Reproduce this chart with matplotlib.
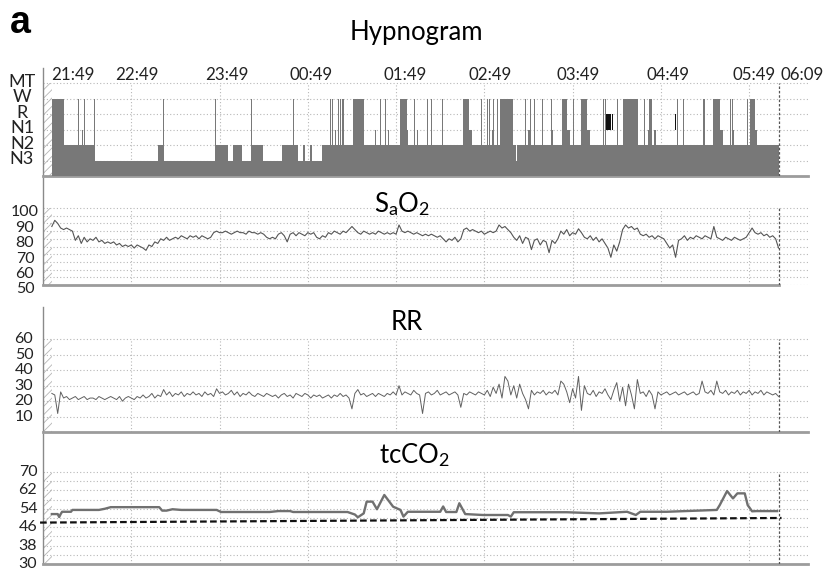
import numpy as np
import matplotlib
matplotlib.use("Agg")
import matplotlib.pyplot as plt
from matplotlib.patches import Rectangle
from matplotlib.transforms import blended_transform_factory

plt.rcParams["font.family"] = ["Lato", "DejaVu Sans"]
plt.rcParams["mathtext.fontset"] = "custom"
plt.rcParams["mathtext.rm"] = "Lato"
plt.rcParams["mathtext.it"] = "Lato:italic"
plt.rcParams["hatch.linewidth"] = 0.6

# ---------------- data (time in minutes after 21:49) ----------------
hour_ticks = [0, 60, 120, 180, 240, 300, 360, 420, 480, 500]
hour_labels = ["21:49", "22:49", "23:49", "00:49", "01:49", "02:49",
               "03:49", "04:49", "05:49", "06:09"]
rec_start, rec_end = 6, 500

stage_names = ["MT", "W", "R", "N1", "N2", "N3"]
stage_level = {"MT": 6, "W": 5, "R": 4, "N1": 3, "N2": 2, "N3": 1}

# (start minute, stage) – each stage lasts until the next start
hypnogram_epochs = [
    (6, "W"), (14.5, "N2"), (24, "W"), (24.5, "N2"), (26.5, "N1"), (27, "N2"), (28, "W"), (28.5, "N2"),
    (35, "W"), (35.5, "N3"), (78.5, "N2"), (81.5, "W"), (82, "N3"), (117, "W"), (117.5, "N2"),
    (126, "N3"), (129, "N2"), (135, "N3"), (141.5, "W"), (142, "N2"), (149.5, "N3"), (162.5, "N2"),
    (170, "W"), (170.5, "N2"), (173.5, "N3"), (176.5, "N2"), (178, "N3"), (181.5, "N2"), (183, "N3"),
    (189.5, "N2"), (193.5, "W"), (194, "N2"), (195, "W"), (195.5, "N2"), (196.5, "W"), (197, "N2"),
    (198.5, "N1"), (199, "N2"), (200.5, "W"), (201, "N2"), (202, "W"), (202.5, "N2"), (203, "W"),
    (204.5, "N2"), (205, "W"), (205.5, "N2"), (207, "W"), (207.5, "N2"), (208.5, "W"), (209, "N2"),
    (210.5, "W"), (218, "N2"), (224, "W"), (224.5, "N2"), (225.5, "N1"), (226.5, "N2"), (227.5, "W"),
    (228, "N2"), (229, "W"), (229.5, "N2"), (232.5, "W"), (233, "N2"), (234.5, "N1"), (235, "N2"),
    (239, "W"), (239.5, "N2"), (243, "W"), (247.5, "N1"), (248, "N2"), (252.5, "W"), (253, "N2"),
    (254, "N1"), (255, "N2"), (258, "W"), (258.5, "N2"), (261, "W"), (262, "N2"), (264, "W"),
    (264.5, "N2"), (271.5, "W"), (272, "N2"), (285.5, "W"), (289.5, "N1"), (291.5, "N2"), (292, "W"),
    (292.5, "N2"), (298, "W"), (298.5, "N2"), (301.5, "W"), (302.5, "N2"), (303.5, "W"), (304, "N2"),
    (305, "N1"), (306, "W"), (306.5, "N2"), (308.5, "W"), (309, "N2"), (310.5, "W"), (319.5, "N2"),
    (321.5, "N3"), (322.5, "N2"), (324, "W"), (324.5, "N2"), (327.5, "W"), (328, "N2"), (329.5, "W"),
    (330, "N1"), (331, "W"), (332, "N2"), (334, "W"), (334.5, "N2"), (337.5, "W"), (338, "N2"),
    (339.5, "W"), (340, "N2"), (343, "W"), (343.5, "N2"), (345.5, "W"), (346, "N1"), (346.5, "N2"),
    (352.5, "W"), (356.5, "N1"), (358, "N2"), (360.5, "W"), (361, "N2"), (366, "W"), (369.5, "N1"),
    (371.5, "N2"), (380.5, "W"), (381, "N2"), (382, "W"), (382.5, "N2"), (383, "R"), (386, "N2"),
    (386.5, "R"), (387.5, "N2"), (388.5, "W"), (389, "N2"), (390.5, "W"), (391, "N2"), (394, "W"),
    (404.5, "N2"), (408.5, "W"), (409, "N2"), (411, "W"), (411.5, "N1"), (412, "W"), (414, "N2"),
    (415, "W"), (415.5, "N1"), (416.5, "W"), (417, "N2"), (429.5, "R"), (430, "N2"), (431, "W"),
    (431.5, "N2"), (435, "W"), (435.5, "N2"), (437.5, "W"), (438, "N2"), (447, "W"), (447.5, "N2"),
    (448.5, "W"), (449, "N1"), (449.5, "W"), (450, "N2"), (455.5, "W"), (460, "N1"), (462, "N2"),
    (467, "W"), (467.5, "N2"), (468.5, "W"), (469, "N1"), (469.5, "N2"), (471.5, "W"), (472, "N2"),
    (473.5, "W"), (474, "N2"), (475.5, "W"), (476, "N2"), (478.5, "W"), (479, "N2"), (480.5, "W"),
    (484, "N1"), (485, "N2"),
]

# SaO2 (%), one reading every 2 min from minute 6
sao2 = [
    88, 92, 90, 87, 86, 87, 86, 85, 79, 82,
    77, 81, 78, 80, 79, 81, 78, 79, 77, 78,
    77, 78, 76, 77, 75, 76, 75, 76, 74, 76,
    75, 74, 72.5, 76, 75, 78, 77, 80, 79, 81,
    79, 80, 81, 80, 82, 81, 80, 82, 81, 82,
    80, 82, 81, 80, 81, 84, 85, 84, 84, 85,
    84, 83, 84, 85, 84, 84, 83, 85, 84, 84,
    83, 84, 83, 81, 80, 81, 80, 83, 84, 82,
    78, 83, 84, 82, 84, 83, 82, 84, 83, 84,
    81, 80, 82, 81, 84, 83, 85, 84, 83, 85,
    84, 86, 88, 86, 84, 83, 85, 84, 83, 84,
    83, 85, 84, 83, 84, 83, 84, 83, 89, 85,
    84, 85, 84, 83, 84, 83, 82, 83, 82, 83,
    82, 81, 82, 80, 78, 80, 79, 81, 78, 80,
    86, 87, 85, 86, 85, 84, 85, 83, 84, 85,
    84, 85, 89, 87, 88, 86, 84, 81, 79, 82,
    77, 81, 80, 73, 79, 80, 76, 79, 78, 71,
    79, 77, 80, 85, 83, 86, 82, 84, 83, 86.5,
    84, 81, 80, 82, 79, 81, 78, 80, 77, 74,
    68, 76, 72, 78, 86, 89, 87, 88, 86, 87,
    83, 82, 83, 81, 82, 80, 82, 81, 80, 77,
    74, 76, 68, 79, 80, 82, 79, 81, 80, 82,
    81, 80, 82, 81, 80, 88, 81, 80, 79, 81,
    80, 79, 81, 80, 79, 80, 81, 84, 87, 84,
    83, 84, 82, 83, 81, 82, 80, 74,
]

# respiratory rate (/min), one reading every 2 min from minute 6
rr = [
    25, 24, 12, 26, 22, 23, 21, 22, 23, 21,
    22, 23, 21, 22, 22, 21, 23, 22, 21, 22,
    23, 22, 21, 23, 20, 22, 23, 22, 21, 23,
    22, 24, 22, 23, 25, 22, 24, 23, 27.5, 24,
    26, 23, 25, 24, 26, 23, 25, 24, 26, 24,
    25, 23, 26, 24, 25, 23, 28, 25, 26, 24,
    25, 27, 24, 26, 23, 25, 24, 26, 24, 23,
    25, 24, 23, 25, 24, 23, 24, 22, 24, 25,
    23, 24, 22, 25, 24, 23, 25, 24, 22, 24,
    23, 24, 22, 23, 24, 22, 24, 23, 25, 23,
    24, 22, 15, 25, 27.5, 24, 25, 23, 24, 25,
    23, 25, 24, 23, 25, 24, 26, 24, 30, 24,
    26, 25, 24, 27, 25, 24, 12, 25, 26, 24,
    25, 27, 24, 25, 26, 24, 25, 26, 24, 16,
    25, 24, 26, 25, 24, 26, 25, 24, 27, 23,
    29, 25, 31, 22, 36, 33, 24, 30, 22, 31,
    25, 21, 15, 27, 24, 26, 25, 27, 24, 26,
    25, 27, 24, 33, 31, 26, 19, 28, 22, 36,
    14, 30, 25, 24, 27, 23, 26, 25, 28, 24,
    21, 27, 32, 20, 29, 17, 31, 24, 15, 34,
    25, 26, 23, 27, 24, 15, 26, 24, 25, 26,
    24, 25, 26, 24, 25, 26, 24, 25, 26, 24,
    25, 33, 26, 25, 27, 24, 33, 26, 25, 27,
    24, 26, 25, 27, 24, 26, 25, 27, 24, 26,
    25, 27, 24, 26, 25, 24, 25, 23,
]

# transcutaneous CO2 (mmHg)
tcco2_t = [6, 10, 11, 12, 13, 19, 20, 38, 42, 46,
           79, 81, 84, 88, 94, 118, 121, 125, 129, 154,
           160, 168, 170, 188, 191, 207, 212, 214, 218, 220,
           224, 227, 232, 238, 243, 245, 248, 270, 272, 274,
           281, 283, 287, 299, 316, 318, 320, 356, 378, 397,
           403, 406, 424, 458, 460, 465, 469, 472, 477, 479,
           482, 485, 499]
tcco2_v = [51.7, 51.7, 50.4, 51.7, 52.7, 52.7, 53.5, 53.5, 54, 54.7,
           54.7, 53.2, 53.2, 53.8, 53.5, 53.5, 52.6, 52.6, 52.6, 52.6,
           53, 53, 52.6, 52.6, 52.6, 52.6, 51.5, 50.3, 52, 57.1,
           57.1, 53.8, 60, 54.9, 53.5, 50.6, 52.7, 52.7, 55, 52.6,
           52.6, 56.4, 51.7, 51.3, 51.3, 50.6, 52.5, 52.5, 52, 52.7,
           51.3, 52.7, 52.7, 53.5, 55.6, 61.7, 58.5, 60.7, 60.7, 55.6,
           52.9, 53, 53]
tcco2_ref_t = [-2, 502]
tcco2_ref_v = [48, 50]

sao2_ticks = [100, 90, 80, 70, 60, 50]
rr_ticks = [60, 50, 40, 30, 20, 10]
tcco2_ticks = [70, 62, 54, 46, 38, 30]

# ---------------- figure layout ----------------
W, H = 828, 572
fig = plt.figure(figsize=(W / 100, H / 100), dpi=100)
X0, X1 = 43, 808
XMAX = 520

GRID = dict(color="#b8b8b8", lw=0.8, linestyle=(0, (1, 2)))
END = dict(color="#555555", lw=0.9, linestyle=(0, (2, 1.5)))


def make_axes(top, bottom, ylim):
    ax = fig.add_axes([X0 / W, 1 - bottom / H, (X1 - X0) / W, (bottom - top) / H])
    ax.set_xlim(0, XMAX)
    ax.set_ylim(*ylim)
    for s in ("top", "right"):
        ax.spines[s].set_visible(False)
    ax.spines["left"].set_color("#8a8a8a")
    ax.spines["left"].set_linewidth(1.0)
    ax.spines["bottom"].set_color("#9c9c9c")
    ax.spines["bottom"].set_linewidth(2.0)
    ax.set_xticks([])
    ax.set_yticks([])
    return ax


def decorate(ax, hlines, ylo, yhi):
    for y in hlines:
        ax.plot([0, XMAX], [y, y], **GRID, zorder=1)
    for t in hour_ticks[1:-1]:
        ax.plot([t, t], [ylo, yhi], **GRID, zorder=1)
    ax.plot([hour_ticks[-1]] * 2, [ylo, yhi], **END, zorder=4)
    ax.add_patch(Rectangle((0, ylo), rec_start, yhi - ylo, fill=False,
                           hatch="////", edgecolor="#b5b5b5", lw=0, zorder=2))


def left_labels(ax, ticks, xpix, ha="center", shift=0.0, size=11.5):
    tr = blended_transform_factory(fig.transFigure, ax.transData)
    for v in ticks:
        ax.text(xpix / W, v + shift, str(v), transform=tr, ha=ha, va="center",
                fontsize=size, color="#222222", clip_on=False)


TITLE = 18.5

# panel label
fig.text(10 / W, 1 - 33 / H, "a", fontsize=27, fontweight="bold",
         family=["Liberation Sans", "DejaVu Sans"], va="baseline")

# ---------------- hypnogram ----------------
ax1 = make_axes(68, 176, (0, 7))
decorate(ax1, [1, 2, 3, 4, 5, 6], 0, 6)
starts = [s for s, _ in hypnogram_epochs]
ends = starts[1:] + [rec_end]
fill_lvl = [2 if st == "R" else stage_level[st] for _, st in hypnogram_epochs]
ax1.fill_between(starts + [rec_end], 0, fill_lvl + [fill_lvl[-1]], step="post",
                 color="#787878", lw=0, zorder=3)
for (s, st), e in zip(hypnogram_epochs, ends):
    if st == "R":
        ax1.bar(s, 1, width=e - s, bottom=stage_level["N1"], align="edge",
                color="#111111", lw=0, zorder=3)
tr1 = blended_transform_factory(fig.transFigure, ax1.transData)
for name in stage_names:
    ax1.text(22 / W, stage_level[name] + 0.1, name, transform=tr1, ha="center",
             va="center", fontsize=13, color="#222222")
label_shift = [20, 4, 5, 2, 6, 4, 4, 5, 3, 16]
for t, lab, dx in zip(hour_ticks, hour_labels, label_shift):
    ax1.text(t + dx, 6.52, lab, ha="center", va="center", fontsize=12.2, color="#222222")
fig.text(416 / W, 1 - 40 / H, "Hypnogram", ha="center", va="baseline", fontsize=TITLE)

# ---------------- SaO2 ----------------
ax2 = make_axes(178, 285, (50, 119.5))
ax2.spines["bottom"].set_bounds(0, rec_end)
decorate(ax2, [50, 55, 60, 65, 70, 75, 80, 85, 90, 95, 100], 50, 100)
t_sao2 = rec_start + 2 * np.arange(len(sao2))
ax2.plot(t_sao2, sao2, color="#555555", lw=0.8, zorder=3)
left_labels(ax2, sao2_ticks, 25, shift=-2.8)
fig.text(402 / W, 1 - 212 / H, r"S$_\mathregular{a}$O$_\mathregular{2}$",
         ha="center", va="baseline", fontsize=TITLE)

# ---------------- RR ----------------
ax3 = make_axes(307, 432, (0, 81))
decorate(ax3, [10, 20, 30, 40, 50, 60], 0, 60)
t_rr = rec_start + 2 * np.arange(len(rr))
ax3.plot(t_rr, rr, color="#606060", lw=0.7, zorder=3)
left_labels(ax3, rr_ticks, 24)
fig.text(407 / W, 1 - 330 / H, "RR", ha="center", va="baseline", fontsize=TITLE)

# ---------------- tcCO2 ----------------
ax4 = make_axes(434, 564, (30, 86.5))
decorate(ax4, list(range(34, 71, 4)), 30, 70)
ax4.plot(tcco2_t, tcco2_v, color="#707070", lw=1.7, zorder=3)
ax4.plot(tcco2_ref_t, tcco2_ref_v, color="#111111", lw=1.6,
         linestyle=(0, (3, 1.5)), zorder=5, clip_on=False)
left_labels(ax4, tcco2_ticks, 28)
fig.text(414 / W, 1 - 463 / H, r"tcCO$_\mathregular{2}$", ha="center",
         va="baseline", fontsize=TITLE)

fig.savefig("out.png", dpi=100)
